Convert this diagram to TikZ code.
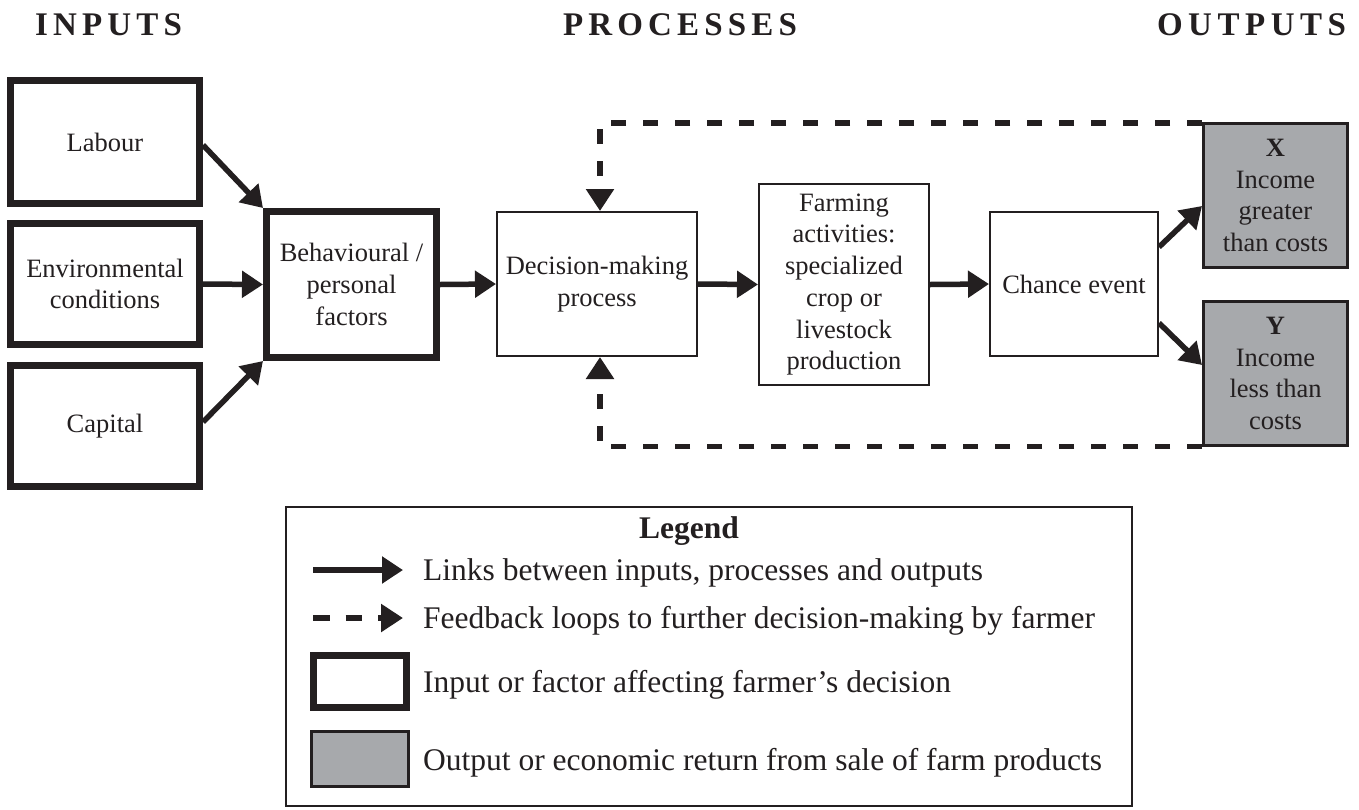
\documentclass[tikz,border=0pt]{standalone}
\usepackage{fontspec}
\setmainfont{Liberation Serif}
\usetikzlibrary{arrows.meta}
\definecolor{ink}{HTML}{231F20}
\definecolor{outgrey}{HTML}{A7A9AC}
\begin{document}
\begin{tikzpicture}[x=1pt,y=-1pt,
 boxtext/.style={font=\fontsize{26.5}{31.7}\selectfont, align=center, text=ink, inner sep=0pt},
 inbox/.style={boxtext, draw=ink, line width=7pt, fill=white},
 procbox/.style={boxtext, draw=ink, line width=2pt, fill=white},
 outbox/.style={boxtext, draw=ink, line width=3pt, fill=outgrey},
 link/.style={draw=ink, line width=5.5pt, -{Triangle[length=21pt,width=26pt]}},
 feedback/.style={draw=ink, line width=5.5pt, dash pattern=on 15pt off 17pt, -{Triangle[length=22pt,width=27pt]}},
 legtext/.style={font=\fontsize{31.5}{36}\selectfont, text=ink, inner sep=0pt, anchor=base west},
 header/.style={font=\fontsize{33}{36}\selectfont\bfseries, text=ink, inner sep=0pt, anchor=base}]
\useasboundingbox[fill=white] (0,0) rectangle (1359,809);

% headers
\node[header] (hin) at (108.5,35) {\makebox[147pt][s]{I\hfill N\hfill P\hfill U\hfill T\hfill S}};
\node[header] (hpr) at (680,35) {\makebox[234pt][s]{P\hfill R\hfill O\hfill C\hfill E\hfill S\hfill S\hfill E\hfill S}};
\node[header] (hout) at (1251.5,35) {\makebox[189pt][s]{O\hfill U\hfill T\hfill P\hfill U\hfill T\hfill S}};

% feedback loops (drawn first, under boxes)
\node[outbox, minimum width=144pt, minimum height=144pt] (X) at (1275.5,195.5) {\textbf{X}\\Income\\greater\\than costs};
\node[outbox, minimum width=144pt, minimum height=144pt] (Y) at (1275.5,373.5) {\textbf{Y}\\Income\\less than\\costs};

% input boxes
\node[inbox, minimum width=189pt, minimum height=123pt] (lab) at (105,142) {Labour};
\node[inbox, minimum width=189pt, minimum height=121pt] (env) at (105,284) {Environmental\\conditions};
\node[inbox, minimum width=189pt, minimum height=121pt] (cap) at (105,426) {Capital};
\node[inbox, minimum width=170pt, minimum height=146pt] (beh) at (351.5,284.5) {Behavioural /\\personal\\factors};

% process boxes
\node[procbox, minimum width=200pt, minimum height=144pt] (dec) at (597,284) {Decision-making\\process};
\node[procbox, minimum width=170pt, minimum height=201pt] (farm) at (844,284.5) {Farming\\activities:\\specialized\\crop or\\livestock\\production};
\node[procbox, minimum width=168pt, minimum height=144pt] (chance) at (1074,284) {Chance event};

% links
\draw[link] ([yshift=-3pt]lab.east) -- (beh.north west);
\draw[link] (env.east) -- (beh.west);
\draw[link] ([yshift=4pt]cap.east) -- (beh.south west);
\draw[link] (beh.east) -- (dec.west);
\draw[link] (dec.east) -- (farm.west);
\draw[link] (farm.east) -- (chance.west);
\draw[link] ([yshift=37pt]chance.east) -- ([yshift=-10.5pt]X.west);
\draw[link] ([yshift=-39pt]chance.east) -- ([yshift=8.5pt]Y.west);

% feedback
\draw[feedback] ([yshift=-1pt]X.north west) -| ([xshift=3pt]dec.north);
\draw[feedback] ([yshift=0.5pt]Y.south west) -| ([xshift=3pt]dec.south);

% legend
\node[draw=ink, line width=1.5pt, minimum width=846pt, minimum height=299pt, inner sep=0pt] (leg) at (709,656.5) {};
\node[legtext, anchor=base, font=\fontsize{31.5}{36}\selectfont\bfseries] (legtitle) at (689,538) {Legend};
\coordinate (s1a) at (313,570);
\coordinate (s1b) at (403,570);
\draw[link] (s1a) -- (s1b);
\coordinate (s2a) at (313,618);
\coordinate (s2b) at (403,618);
\draw[feedback, dash pattern=on 16.5pt off 16pt] (s2a) -- (s2b);
\node[inbox, minimum width=93pt, minimum height=52pt] (s3) at (360,681.5) {};
\node[outbox, minimum width=97pt, minimum height=55pt] (s4) at (360,759) {};
\node[legtext] (t1) at (423,580) {Links between inputs, processes and outputs};
\node[legtext] (t2) at (423,628) {Feedback loops to further decision-making by farmer};
\node[legtext] (t3) at (423,692) {Input or factor affecting farmer’s decision};
\node[legtext] (t4) at (423,770) {Output or economic return from sale of farm products};
\end{tikzpicture}
\end{document}
